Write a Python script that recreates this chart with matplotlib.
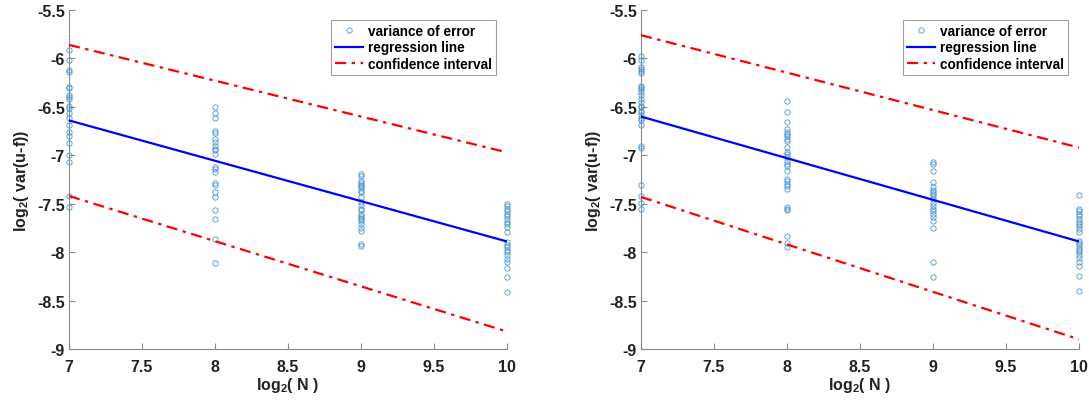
import matplotlib
matplotlib.use("Agg")
import matplotlib.pyplot as plt
import numpy as np

plt.rcParams['font.family'] = ['Liberation Sans', 'DejaVu Sans']
plt.rcParams['mathtext.default'] = 'regular'

# ---- data: panel 1 ----
p1_y7 = [-5.91, -6.02, -6.12, -6.14, -6.29, -6.31, -6.38, -6.40, -6.42, -6.49,
         -6.51, -6.56, -6.61, -6.69, -6.76, -6.80, -6.87, -7.00, -7.07, -7.42, -7.53]
p1_y8 = [-6.50, -6.56, -6.62, -6.745, -6.77, -6.83, -6.865, -6.90, -6.93, -6.95,
         -6.99, -7.12, -7.14, -7.17, -7.29, -7.31, -7.38, -7.43, -7.57, -7.66, -7.86, -8.11]
p1_y9 = [-7.19, -7.21, -7.27, -7.285, -7.31, -7.32, -7.34, -7.365, -7.38, -7.43,
         -7.485, -7.51, -7.55, -7.57, -7.605, -7.63, -7.65, -7.66, -7.68, -7.71,
         -7.75, -7.78, -7.915, -7.94]
p1_y10 = [-7.50, -7.526, -7.554, -7.578, -7.605, -7.63, -7.657, -7.685, -7.71, -7.74,
          -7.79, -7.90, -7.925, -7.95, -7.974, -8.00, -8.03, -8.07, -8.10, -8.166,
          -8.26, -8.41]
p1_reg = [-6.64, -7.89]
p1_upper = [-5.86, -6.97]
p1_lower = [-7.42, -8.82]

# ---- data: panel 2 ----
p2_y7 = [-5.97, -6.016, -6.09, -6.11, -6.127, -6.15, -6.28, -6.30, -6.32, -6.35,
         -6.38, -6.42, -6.45, -6.49, -6.50, -6.54, -6.556, -6.58, -6.61, -6.64,
         -6.69, -6.90, -6.92, -7.31, -7.42, -7.49, -7.55]
p2_y8 = [-6.443, -6.556, -6.653, -6.728, -6.756, -6.78, -6.803, -6.83, -6.848, -6.917,
         -6.962, -6.986, -7.02, -7.055, -7.09, -7.113, -7.158, -7.244, -7.27, -7.296,
         -7.32, -7.347, -7.536, -7.554, -7.57, -7.83, -7.905, -7.95]
p2_y9 = [-7.065, -7.09, -7.165, -7.278, -7.33, -7.354, -7.375, -7.40, -7.42, -7.45,
         -7.49, -7.52, -7.55, -7.58, -7.605, -7.64, -7.674, -7.75, -8.10, -8.26]
p2_y10 = [-7.41, -7.554, -7.578, -7.605, -7.63, -7.657, -7.685, -7.71, -7.73, -7.76,
          -7.79, -7.88, -7.905, -7.93, -7.96, -7.98, -8.00, -8.03, -8.06, -8.10,
          -8.145, -8.25, -8.40]
p2_reg = [-6.60, -7.89]
p2_upper = [-5.76, -6.92]
p2_lower = [-7.43, -8.90]

line_x = [7, 10]
x_ticks = [7, 7.5, 8, 8.5, 9, 9.5, 10]
y_ticks = [-9, -8.5, -8, -7.5, -7, -6.5, -6, -5.5]
x_tick_labels = ['7', '7.5', '8', '8.5', '9', '9.5', '10']
y_tick_labels = ['-9', '-8.5', '-8', '-7.5', '-7', '-6.5', '-6', '-5.5']

panels = [
    dict(cols={7: p1_y7, 8: p1_y8, 9: p1_y9, 10: p1_y10}, reg=p1_reg, up=p1_upper, lo=p1_lower),
    dict(cols={7: p2_y7, 8: p2_y8, 9: p2_y9, 10: p2_y10}, reg=p2_reg, up=p2_upper, lo=p2_lower),
]

W, H = 1089, 402
fig = plt.figure(figsize=(W / 100, H / 100), dpi=100)
lefts = [69, 641]
axw, axb, axt = 438, 350, 11
spine_col = '#8a8a8a'

for left, p in zip(lefts, panels):
    ax = fig.add_axes([left / W, (H - axb) / H, axw / W, (axb - axt) / H])
    xs, ys = [], []
    for xv, yv in p['cols'].items():
        xs += [xv] * len(yv)
        ys += yv
    ax.plot(xs, ys, 'o', linestyle='none', markersize=3.8, markerfacecolor='none',
            markeredgecolor='#4a97d2', markeredgewidth=0.6, label='variance of error', clip_on=False, zorder=3)
    ax.plot(line_x, p['reg'], '-', color='#0000ff', lw=1.6, label='regression line', zorder=4)
    ax.plot(line_x, p['up'], '-.', color='#ff0000', lw=1.6, label='confidence interval',
            dashes=(5, 2.5, 1.5, 2.5), zorder=4)
    ax.plot(line_x, p['lo'], '-.', color='#ff0000', lw=1.6, dashes=(5, 2.5, 1.5, 2.5), zorder=4)
    ax.set_xlim(7, 10)
    ax.set_ylim(-9, -5.5)
    ax.set_xticks(x_ticks)
    ax.set_xticklabels(x_tick_labels)
    ax.set_yticks(y_ticks)
    ax.set_yticklabels(y_tick_labels)
    for s in ['top', 'right']:
        ax.spines[s].set_visible(False)
    for s in ['left', 'bottom']:
        ax.spines[s].set_color(spine_col)
        ax.spines[s].set_linewidth(0.8)
    ax.tick_params(direction='in', length=4, width=0.8, color=spine_col,
                   labelsize=11.5, labelcolor='#222222')
    ax.tick_params(axis='x', pad=7)
    ax.tick_params(axis='y', pad=3)
    for lab in ax.get_xticklabels() + ax.get_yticklabels():
        lab.set_fontweight('bold')
    ax.set_xlabel('log$_2$( N )', fontsize=11.5, fontweight='bold', color='#222222', labelpad=1)
    ax.set_ylabel('log$_2$( var(u-f))', fontsize=11.5, fontweight='bold', color='#222222', labelpad=4)
    leg = ax.legend(loc='upper right', bbox_to_anchor=(0.975, 0.971), borderaxespad=0,
                    prop={'size': 9.8, 'weight': 'bold'}, frameon=True, fancybox=False,
                    handlelength=2.0, handletextpad=0.4, labelspacing=0.18, borderpad=0.3)
    leg.get_frame().set_edgecolor('#8a8a8a')
    leg.get_frame().set_linewidth(0.8)

fig.savefig('out.png', dpi=100)
